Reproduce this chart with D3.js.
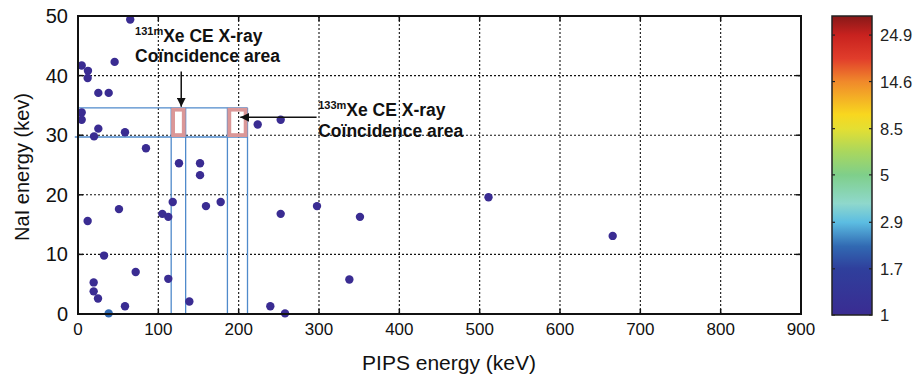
<!DOCTYPE html>
<html>
<head>
<meta charset="utf-8">
<script src="https://cdn.jsdelivr.net/npm/d3@7"></script>
<style>
  html, body { margin: 0; padding: 0; background: #fff; }
  svg { display: block; font-family: "Liberation Sans", Arial, Helvetica, sans-serif; }
</style>
</head>
<body>
<svg id="chart" width="918" height="375"></svg>
<script>
// PIPS (beta) energy vs NaI (gamma/X-ray) energy of coincidence events, keV
const pipsEnergy = [65, 4.6, 12.4, 12, 45.6, 25.3, 38.2, 4.6, 4.6, 25.3, 20, 58.5, 84.6,
  125.7, 151.9, 151.9, 223.7, 252.3, 12, 51, 32.4, 71.8, 19.5, 19.5, 24.9, 58.5, 38.2,
  105, 112.4, 117.9, 159.3, 177.6, 112.4, 138.6, 239.4, 257.7, 252.3, 297.5, 351, 337.8,
  511, 665.6];
const naiEnergy = [49.4, 41.7, 40.8, 39.6, 42.3, 37.1, 37.1, 33.8, 32.6, 31.1, 29.8, 30.5, 27.8,
  25.3, 25.3, 23.3, 31.8, 32.6, 15.6, 17.6, 9.8, 7.05, 5.3, 3.8, 2.6, 1.3, 0.1,
  16.8, 16.3, 18.8, 18.1, 18.8, 5.9, 2.1, 1.3, 0.1, 16.8, 18.1, 16.3, 5.8,
  19.6, 13.1];
const eventCounts = [1, 1, 1, 1, 1, 1, 1, 1, 1, 1, 1, 1, 1,
  1, 1, 1, 1, 1, 1, 1, 1, 1, 1, 1, 1, 1, 2.2,
  1, 1, 1, 1, 1, 1, 1, 1, 1, 1, 1, 1, 1,
  1, 1];

const xTicks = [0, 100, 200, 300, 400, 500, 600, 700, 800, 900];
const yTicks = [0, 10, 20, 30, 40, 50];
const colorTicks = [1, 1.7, 2.9, 5, 8.5, 14.6, 24.9];

// Xe K X-ray window (NaI) and conversion-electron windows (PIPS)
const xrayWindow = [29.7, 34.6];
const ce131mWindow = [116, 134];
const ce133mWindow = [186, 211];

// colour map stops (count -> colour)
const cmapValues = [1, 1.7, 2.2, 2.9, 3.6, 5, 6.5, 8.5, 10, 14.6, 19, 24.9, 31];
const cmapColors = ["#3a2c92", "#2f3f9c", "#3169b2", "#5cbde2", "#8fd8cc", "#7fcf8a",
  "#a9d75e", "#e4df32", "#f8d71f", "#f0892b", "#e13d2b", "#c8221f", "#871818"];

const svg = d3.select("#chart");
const plot = { left: 78, top: 16, right: 801, bottom: 314 };

const x = d3.scaleLinear().domain([0, 900]).range([plot.left, plot.right]);
const y = d3.scaleLinear().domain([0, 50]).range([plot.bottom, plot.top]);

const cLog = d3.scaleLog().domain(cmapValues).range(cmapColors).interpolate(d3.interpolateRgb);

// dotted grid
const grid = svg.append("g");
grid.selectAll("line.gx").data(xTicks.slice(1, -1)).join("line")
  .attr("x1", d => x(d)).attr("x2", d => x(d))
  .attr("y1", plot.top).attr("y2", plot.bottom)
  .attr("stroke", "#111").attr("stroke-width", 1.1).attr("stroke-dasharray", "2,2");
grid.selectAll("line.gy").data(yTicks.slice(1, -1)).join("line")
  .attr("y1", d => y(d)).attr("y2", d => y(d))
  .attr("x1", plot.left).attr("x2", plot.right)
  .attr("stroke", "#111").attr("stroke-width", 1.1).attr("stroke-dasharray", "2,2");

// coincidence window guide lines
const guides = svg.append("g").attr("stroke", "#4f8acb").attr("stroke-width", 1.3);
guides.selectAll("line.h").data(xrayWindow).join("line")
  .attr("x1", (d, i) => x(i === 0 ? -4 : 0)).attr("x2", x(ce133mWindow[1]))
  .attr("y1", d => y(d)).attr("y2", d => y(d));
guides.selectAll("line.v").data(ce131mWindow.concat(ce133mWindow)).join("line")
  .attr("x1", d => x(d)).attr("x2", d => x(d))
  .attr("y1", y(xrayWindow[1])).attr("y2", y(0));

// data points
svg.append("g").selectAll("circle").data(pipsEnergy).join("circle")
  .attr("cx", d => x(d))
  .attr("cy", (d, i) => y(naiEnergy[i]))
  .attr("r", 4.2)
  .attr("fill", (d, i) => cLog(eventCounts[i]));

// coincidence area boxes
const boxStroke = 3.8;
svg.append("g").selectAll("rect").data([ce131mWindow, ce133mWindow]).join("rect")
  .attr("x", d => x(d[0]) + boxStroke / 2)
  .attr("y", y(xrayWindow[1]) + boxStroke / 2)
  .attr("width", d => x(d[1]) - x(d[0]) - boxStroke)
  .attr("height", y(xrayWindow[0]) - y(xrayWindow[1]) - boxStroke)
  .attr("fill", "none").attr("stroke", "#db9797").attr("stroke-width", boxStroke);

// frame
svg.append("rect")
  .attr("x", plot.left).attr("y", plot.top)
  .attr("width", plot.right - plot.left).attr("height", plot.bottom - plot.top)
  .attr("fill", "none").attr("stroke", "#111").attr("stroke-width", 2);

// inward ticks on all four sides
const tickLen = 5;
const ticks = svg.append("g").attr("stroke", "#111").attr("stroke-width", 1.5);
xTicks.forEach(t => {
  ticks.append("line").attr("x1", x(t)).attr("x2", x(t)).attr("y1", plot.bottom).attr("y2", plot.bottom - tickLen);
  ticks.append("line").attr("x1", x(t)).attr("x2", x(t)).attr("y1", plot.top).attr("y2", plot.top + tickLen);
});
yTicks.forEach(t => {
  ticks.append("line").attr("y1", y(t)).attr("y2", y(t)).attr("x1", plot.left).attr("x2", plot.left + tickLen);
  ticks.append("line").attr("y1", y(t)).attr("y2", y(t)).attr("x1", plot.right).attr("x2", plot.right - tickLen);
});

// tick labels
svg.append("g").selectAll("text").data(xTicks).join("text")
  .attr("x", d => x(d)).attr("y", plot.bottom + 21)
  .attr("text-anchor", "middle").attr("font-size", 17).attr("fill", "#111")
  .text(d => d);
svg.append("g").selectAll("text").data(yTicks).join("text")
  .attr("x", plot.left - 10).attr("y", d => y(d) + 7)
  .attr("text-anchor", "end").attr("font-size", 20).attr("fill", "#111")
  .text(d => d);

// axis titles
svg.append("text")
  .attr("x", 449).attr("y", 370)
  .attr("text-anchor", "middle").attr("font-size", 21).attr("fill", "#111")
  .text("PIPS energy (keV)");
svg.append("text")
  .attr("transform", "translate(29,167) rotate(-90)")
  .attr("text-anchor", "middle").attr("font-size", 20).attr("fill", "#111")
  .text("NaI energy (kev)");

// annotations
const marker = svg.append("defs").append("marker")
  .attr("id", "arrowhead").attr("viewBox", "0 0 10 10")
  .attr("refX", 10).attr("refY", 5)
  .attr("markerWidth", 9).attr("markerHeight", 9)
  .attr("markerUnits", "userSpaceOnUse")
  .attr("orient", "auto");
marker.append("path").attr("d", "M0,0 L10,5 L0,10 Z").attr("fill", "#111");

svg.append("line")
  .attr("x1", x(128.5)).attr("x2", x(128.5))
  .attr("y1", y(40.7)).attr("y2", y(xrayWindow[1]) - 1)
  .attr("stroke", "#111").attr("stroke-width", 1.5).attr("marker-end", "url(#arrowhead)");
svg.append("line")
  .attr("x1", x(297)).attr("x2", x(202))
  .attr("y1", y(33)).attr("y2", y(33))
  .attr("stroke", "#111").attr("stroke-width", 1.5).attr("marker-end", "url(#arrowhead)");

function annotation(kev, nai, isotope) {
  const t = svg.append("text")
    .attr("font-weight", "bold").attr("fill", "#111").attr("font-size", 17.5);
  const l1 = t.append("tspan").attr("x", x(kev)).attr("y", y(nai));
  l1.append("tspan").attr("font-size", 11).attr("dy", -7).text(isotope);
  l1.append("tspan").attr("dy", 7).text("Xe CE X-ray");
  t.append("tspan").attr("x", x(kev)).attr("y", y(nai) + 20.5).text("Coïncidence area");
}
annotation(71, 45.7, "131m");
annotation(299, 33.2, "133m");

// colour bar
const cb = { left: 832, right: 872, top: 16, bottom: 315 };
const cbScale = d3.scaleLog().domain([1, 31]).range([cb.bottom, cb.top]);
const grad = svg.select("defs").append("linearGradient")
  .attr("id", "cbar").attr("x1", 0).attr("x2", 0).attr("y1", 1).attr("y2", 0);
grad.selectAll("stop").data(cmapValues).join("stop")
  .attr("offset", d => (cb.bottom - cbScale(d)) / (cb.bottom - cb.top))
  .attr("stop-color", (d, i) => cmapColors[i]);
svg.append("rect")
  .attr("x", cb.left).attr("y", cb.top)
  .attr("width", cb.right - cb.left).attr("height", cb.bottom - cb.top)
  .attr("fill", "url(#cbar)").attr("stroke", "#222").attr("stroke-width", 1.5);
const cbTicks = svg.append("g").attr("stroke", "#222").attr("stroke-width", 1.2);
colorTicks.forEach(t => {
  cbTicks.append("line").attr("x1", cb.left).attr("x2", cb.left + 3).attr("y1", cbScale(t)).attr("y2", cbScale(t));
  cbTicks.append("line").attr("x1", cb.right).attr("x2", cb.right - 3).attr("y1", cbScale(t)).attr("y2", cbScale(t));
});
svg.append("g").selectAll("text").data(colorTicks).join("text")
  .attr("x", cb.right + 8).attr("y", d => cbScale(d) + 6)
  .attr("font-size", 16.5).attr("fill", "#222")
  .text(d => d);
</script>
</body>
</html>
